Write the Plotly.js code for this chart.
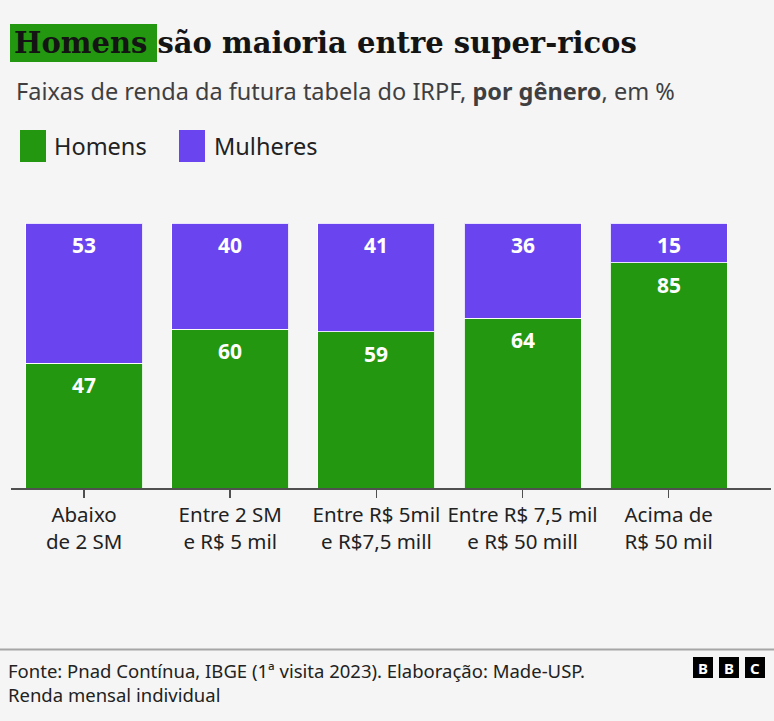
<!DOCTYPE html>
<html>
<head>
<meta charset="utf-8">
<script src="https://cdn.plot.ly/plotly-3.0.1.min.js"></script>
<style>
  html, body { margin: 0; padding: 0; background: #f5f5f5; }
  #chart { width: 774px; height: 721px; }
</style>
</head>
<body>
<div id="chart"></div>
<script>
// ---- data ----
const categories = [
  "Abaixo<br>de 2 SM",
  "Entre 2 SM<br>e R$ 5 mil",
  "Entre R$ 5mil<br>e R$7,5 mill",
  "Entre R$ 7,5 mil<br>e R$ 50 mill",
  "Acima de<br>R$ 50 mil"
];
const homens = [47, 60, 59, 64, 85];
const mulheres = [53, 40, 41, 36, 15];
const seriesNames = ["Homens", "Mulheres"];

const GREEN = "#22970f";
const PURPLE = "#6a45ef";
const BG = "#f5f5f5";
const SANS = "Noto Sans, Open Sans, sans-serif";

// pixel -> paper helpers (plot area: x 11..771, y 223..488)
const L = 11, R = 3, T = 223, B = 233, W = 774, H = 721;
const PW = W - L - R, PH = H - T - B;
const px = p => (p - L) / PW;
const py = p => (H - B - p) / PH;

const traces = [
  {
    type: "bar", name: seriesNames[0], x: categories, y: homens,
    marker: { color: GREEN, line: { color: "rgba(255,255,255,0.85)", width: 1 } },
    hoverinfo: "none", showlegend: false
  },
  {
    type: "bar", name: seriesNames[1], x: categories, y: mulheres,
    marker: { color: PURPLE, line: { color: "rgba(255,255,255,0.85)", width: 1 } },
    hoverinfo: "none", showlegend: false
  }
];

const annotations = [];
// value labels near top of each segment
categories.forEach((c, i) => {
  annotations.push({
    x: c, y: homens[i], xref: "x", yref: "y", yanchor: "top", yshift: -6,
    text: "<b>" + homens[i] + "</b>", showarrow: false,
    font: { family: SANS, size: 21, color: "#ffffff" }
  });
  annotations.push({
    x: c, y: homens[i] + mulheres[i], xref: "x", yref: "y", yanchor: "top", yshift: -6,
    text: "<b>" + mulheres[i] + "</b>", showarrow: false,
    font: { family: SANS, size: 21, color: "#ffffff" }
  });
});

// subtitle
annotations.push({
  xref: "paper", yref: "paper", x: px(14), y: py(91), xanchor: "left", yanchor: "middle",
  text: "Faixas de renda da futura tabela do IRPF, <b>por gênero</b>, em %",
  showarrow: false, font: { family: SANS, size: 23.5, color: "#3f3f42" }
});
// legend texts
annotations.push({
  xref: "paper", yref: "paper", x: px(52), y: py(146), xanchor: "left", yanchor: "middle",
  text: seriesNames[0], showarrow: false, font: { family: SANS, size: 23.5, color: "#222222" }
});
annotations.push({
  xref: "paper", yref: "paper", x: px(212), y: py(146), xanchor: "left", yanchor: "middle",
  text: seriesNames[1], showarrow: false, font: { family: SANS, size: 23.5, color: "#222222" }
});
// footer (two lines in one block)
annotations.push({
  xref: "paper", yref: "paper", x: px(6), y: py(682), xanchor: "left", yanchor: "middle",
  align: "left",
  text: "Fonte: Pnad Contínua, IBGE (1ª visita 2023). Elaboração: Made-USP.<br>Renda mensal individual",
  showarrow: false, font: { family: SANS, size: 18.5, color: "#222222" }
});
// BBC logo letters
const logoX = [693, 719, 745];
const logoL = ["B", "B", "C"];
logoX.forEach((x0, i) => {
  annotations.push({
    xref: "paper", yref: "paper", x: px(x0 + 10), y: py(667.5), xanchor: "center", yanchor: "middle",
    text: "<b>" + logoL[i] + "</b>", showarrow: false,
    font: { family: SANS, size: 15, color: "#ffffff" }
  });
});

const shapes = [
  // title highlight
  { type: "rect", xref: "paper", yref: "paper", x0: px(10), x1: px(157), y0: py(62), y1: py(24),
    fillcolor: GREEN, line: { width: 0 }, layer: "above" },
  // legend swatches
  { type: "rect", xref: "paper", yref: "paper", x0: px(20), x1: px(46), y0: py(162), y1: py(130),
    fillcolor: GREEN, line: { width: 0 } },
  { type: "rect", xref: "paper", yref: "paper", x0: px(179), x1: px(205), y0: py(162), y1: py(130),
    fillcolor: PURPLE, line: { width: 0 } },
  // footer rule
  { type: "line", xref: "paper", yref: "paper", x0: px(0), x1: px(774), y0: py(649.5), y1: py(649.5),
    line: { color: "#a6a6a6", width: 2 } }
];
logoX.forEach(x0 => {
  shapes.push({ type: "rect", xref: "paper", yref: "paper", x0: px(x0), x1: px(x0 + 20),
    y0: py(678), y1: py(657), fillcolor: "#000000", line: { width: 0 } });
});

const layout = {
  width: W, height: H,
  margin: { l: L, r: R, t: T, b: B, pad: 0 },
  paper_bgcolor: BG, plot_bgcolor: BG,
  barmode: "stack", bargap: 0.2,
  showlegend: false,
  title: {
    text: "<b>Homens são maioria entre super-ricos</b>",
    xref: "container", yref: "container", x: 14 / W, xanchor: "left",
    y: 1 - 43 / H, yanchor: "middle",
    font: { family: "DejaVu Serif, serif", size: 29, color: "#141414" }
  },
  xaxis: {
    type: "category", range: [-0.5, 4.7], fixedrange: true,
    showline: true, linecolor: "#505050", linewidth: 1.5,
    ticks: "outside", ticklen: 8, tickcolor: "#505050", tickwidth: 1.5,
    tickfont: { family: SANS, size: 20.5, color: "#222222" },
    showgrid: false, zeroline: false
  },
  yaxis: {
    range: [0, 100], visible: false, showgrid: false, zeroline: false, fixedrange: true
  },
  shapes: shapes,
  annotations: annotations
};

Plotly.newPlot("chart", traces, layout, { displayModeBar: false, staticPlot: true });
</script>
</body>
</html>
